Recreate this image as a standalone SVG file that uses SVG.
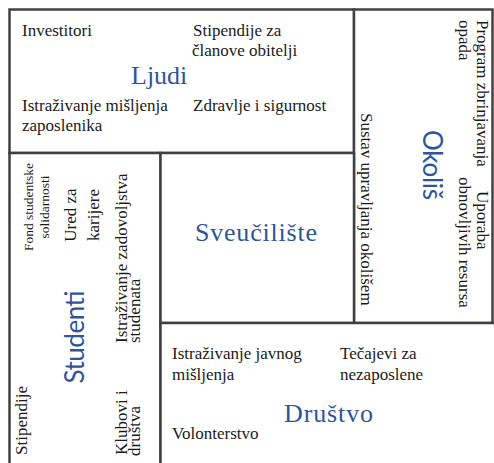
<svg xmlns="http://www.w3.org/2000/svg" width="494" height="463" viewBox="0 0 494 463">
<style>
.box{fill:#fff;stroke:#404040;stroke-width:2.5}
.t{font-size:17px;fill:#1a1a1a}
.ts{font-size:13.5px;fill:#1a1a1a}
.h{font-size:26px;fill:#2f5597}
.hs{font-size:26px;fill:#2f5597}
</style>
<rect width="494" height="463" fill="#fff"/>
<g id="ljudi" font-family="Liberation Serif, DejaVu Serif, serif">
<rect class="box" x="9.5" y="9.5" width="344.5" height="143.5"/>
<text class="t" x="22" y="36">Investitori</text>
<text class="t" x="193" y="36">Stipendije za</text>
<text class="t" x="192" y="56">članove obitelji</text>
<text class="h" x="131" y="84">Ljudi</text>
<text class="t" x="22" y="111">Istraživanje mišljenja</text>
<text class="t" x="22" y="131">zaposlenika</text>
<text class="t" x="193" y="111">Zdravlje i sigurnost</text>
</g>
<g id="okolis" font-family="Liberation Serif, DejaVu Serif, serif">
<rect class="box" x="354" y="9.5" width="138.5" height="313.5"/>
<text class="t" transform="translate(476.5,20) rotate(90)">Program zbrinjavanja</text>
<text class="t" transform="translate(458.5,20) rotate(90)">opada</text>
<text class="t" transform="translate(476.5,191) rotate(90)">Uporaba</text>
<text class="t" transform="translate(458.5,177) rotate(90)">obnovljivih resursa</text>
<text class="hs" font-family="Lato, Liberation Sans, sans-serif" text-anchor="middle" textLength="70" transform="translate(423,165) rotate(90)">Okoliš</text>
<text class="t" transform="translate(361,113) rotate(90)">Sustav upravljanja okolišem</text>
</g>
<g id="studenti" font-family="Liberation Serif, DejaVu Serif, serif">
<rect class="box" x="9.5" y="153" width="151" height="330"/>
<text class="ts" text-anchor="middle" transform="translate(33,207) rotate(-90)">Fond studentske</text>
<text class="ts" text-anchor="middle" transform="translate(49,207) rotate(-90)">solidarnosti</text>
<text class="t" text-anchor="middle" transform="translate(76,215) rotate(-90)">Ured za</text>
<text class="t" text-anchor="middle" transform="translate(98.5,215) rotate(-90)">karijere</text>
<text class="t" transform="translate(126.5,343) rotate(-90)">Istraživanje zadovoljstva</text>
<text class="t" transform="translate(140,343) rotate(-90)">studenata</text>
<text class="hs" font-family="Lato, Liberation Sans, sans-serif" text-anchor="middle" textLength="93" transform="translate(84,337) rotate(-90)">Studenti</text>
<text class="t" transform="translate(26.5,455) rotate(-90)">Stipendije</text>
<text class="t" transform="translate(127,455) rotate(-90)">Klubovi i</text>
<text class="t" transform="translate(140,456) rotate(-90)">društva</text>
</g>
<g id="sveuciliste" font-family="Liberation Serif, DejaVu Serif, serif">
<rect class="box" x="160.5" y="153" width="193.5" height="170"/>
<text class="h" x="256" y="241" text-anchor="middle" textLength="122">Sveučilište</text>
</g>
<g id="drustvo" font-family="Liberation Serif, DejaVu Serif, serif">
<rect class="box" x="160.5" y="323" width="345" height="200"/>
<text class="t" x="172" y="359">Istraživanje javnog</text>
<text class="t" x="172" y="380">mišljenja</text>
<text class="t" x="340" y="359">Tečajevi za</text>
<text class="t" x="340" y="380">nezaposlene</text>
<text class="h" x="284" y="422" textLength="89">Društvo</text>
<text class="t" x="172" y="439">Volonterstvo</text>
</g>
<g id="connectors"></g>
</svg>
